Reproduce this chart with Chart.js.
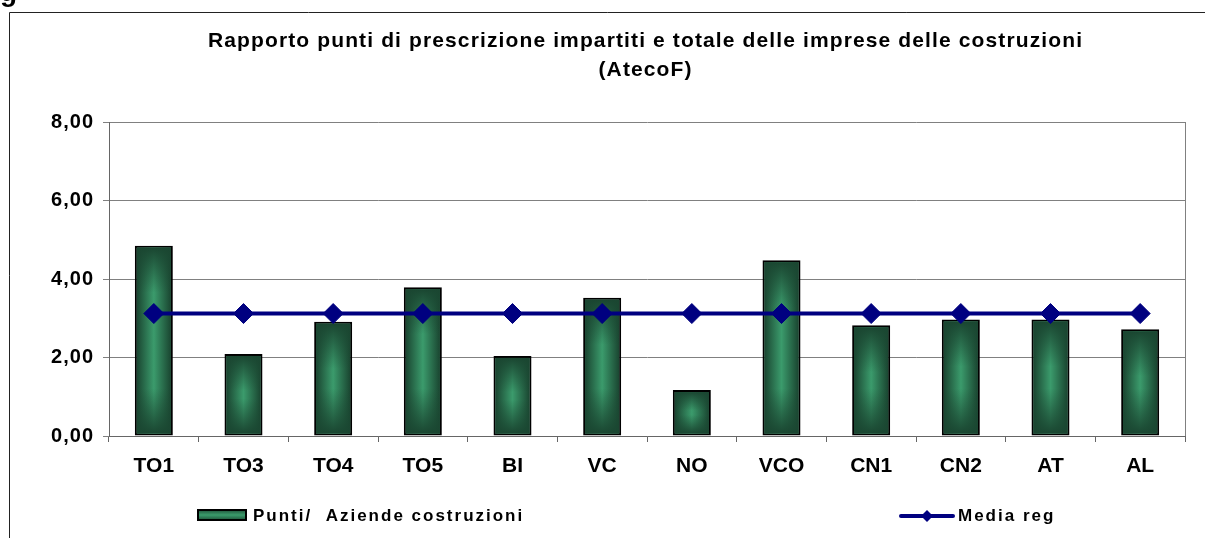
<!DOCTYPE html>
<html><head><meta charset="utf-8">
<script src="https://cdn.jsdelivr.net/npm/chart.js@4.4.1/dist/chart.umd.min.js"></script>
<style>html,body{margin:0;padding:0;background:#fff;}canvas{display:block;}</style>
</head><body>
<canvas id="c" width="1205" height="538"></canvas>
<script>
const categories = ['TO1','TO3','TO4','TO5','BI','VC','NO','VCO','CN1','CN2','AT','AL'];
const puntiAziende = [4.85,2.09,2.91,3.79,2.04,3.52,1.17,4.48,2.82,2.97,2.97,2.72];
const mediaReg = [3.12,3.12,3.12,3.12,3.12,3.12,3.12,3.12,3.12,3.12,3.12,3.12];
const yTicks = [0,2,4,6,8];
const titleLines = ['Rapporto punti di prescrizione impartiti e totale delle imprese delle costruzioni','(AtecoF)'];
const seriesLabels = ['Punti/  Aziende costruzioni','Media reg'];

const FONT = '"Liberation Sans", Arial, sans-serif';
const DARK = '#1a4631', LIGHT = '#3b9b6c', NAVY = '#000080';

function spacedText(ctx, text, x, y, spacing, align) {
  ctx.save();
  ctx.letterSpacing = spacing + 'px';
  const w = ctx.measureText(text).width - spacing;
  let sx = x;
  if (align === 'center') sx = x - w / 2;
  else if (align === 'right') sx = x - w;
  ctx.textAlign = 'left';
  ctx.fillText(text, sx, y);
  ctx.restore();
  return w;
}

const framePlugin = {
  id: 'frame',
  beforeDraw(chart) {
    const c = chart.ctx;
    c.save();
    c.fillStyle = '#fff';
    c.fillRect(0, 0, chart.width, chart.height);
    c.fillStyle = '#000';
    c.font = 'bold 28px ' + FONT;
    c.textBaseline = 'alphabetic';
    c.fillText('g', 0, 1);
    c.strokeStyle = '#222';
    c.lineWidth = 1;
    c.beginPath();
    c.moveTo(9.5, chart.height + 2);
    c.lineTo(9.5, 12.5);
    c.lineTo(chart.width + 2, 12.5);
    c.stroke();
    c.restore();
  },
  afterDraw(chart) {
    const c = chart.ctx, a = chart.chartArea;
    c.save();
    c.strokeStyle = '#808080';
    c.lineWidth = 1;
    c.beginPath();
    c.moveTo(Math.round(a.right) + 0.5, a.top);
    c.lineTo(Math.round(a.right) + 0.5, a.bottom);
    c.stroke();
    // title
    c.fillStyle = '#000';
    c.font = 'bold 21px ' + FONT;
    c.textBaseline = 'alphabetic';
    c.letterSpacing = '0px';
    const w0 = c.measureText(titleLines[0]).width;
    const sp = Math.max(0, (874 - w0) / (titleLines[0].length - 1));
    const cx = 645;
    spacedText(c, titleLines[0], cx, 47, sp, 'center');
    spacedText(c, titleLines[1], cx, 76, sp, 'center');
    // legend
    c.font = 'bold 17px ' + FONT;
    const ly = 515;
    const g = c.createLinearGradient(0, ly - 6, 0, ly + 6);
    g.addColorStop(0, DARK); g.addColorStop(0.5, LIGHT); g.addColorStop(1, DARK);
    c.fillStyle = '#000';
    c.fillRect(197, ly - 6, 50, 12);
    c.fillStyle = g;
    c.fillRect(199, ly - 4, 46, 8);
    c.fillStyle = '#000';
    spacedText(c, chart.data.datasets[0].label, 253, ly + 6, 2, 'left');
    c.strokeStyle = NAVY;
    c.lineWidth = 4;
    c.lineCap = 'round';
    c.beginPath(); c.moveTo(901, ly + 1); c.lineTo(953, ly + 1); c.stroke();
    c.fillStyle = NAVY;
    c.beginPath();
    c.moveTo(927, ly + 1 - 6); c.lineTo(933, ly + 1); c.lineTo(927, ly + 7); c.lineTo(921, ly + 1); c.closePath();
    c.fill();
    c.fillStyle = '#000';
    spacedText(c, chart.data.datasets[1].label, 958, ly + 6, 2, 'left');
    c.restore();
  }
};

const barShadePlugin = {
  id: 'barShade',
  afterDatasetDraw(chart, args) {
    if (args.index !== 0) return;
    const c = chart.ctx;
    const bw = 2;
    args.meta.data.forEach(el => {
      const l = el.x - el.width / 2 + bw, r = el.x + el.width / 2 - bw;
      const t = Math.min(el.y, el.base) + bw, b = Math.max(el.y, el.base) - bw;
      const w = r - l, h = b - t;
      if (w <= 0 || h <= 0) return;
      c.save();
      const hg = c.createLinearGradient(l, 0, r, 0);
      hg.addColorStop(0, DARK); hg.addColorStop(0.5, LIGHT); hg.addColorStop(1, DARK);
      c.fillStyle = hg;
      c.fillRect(l, t, w, h);
      const band = Math.min(h * 0.45, 45);
      const tg = c.createLinearGradient(0, t, 0, t + band);
      tg.addColorStop(0, 'rgba(26,70,49,1)'); tg.addColorStop(1, 'rgba(26,70,49,0)');
      c.fillStyle = tg; c.fillRect(l, t, w, band);
      const bg = c.createLinearGradient(0, b, 0, b - band);
      bg.addColorStop(0, 'rgba(26,70,49,1)'); bg.addColorStop(1, 'rgba(26,70,49,0)');
      c.fillStyle = bg; c.fillRect(l, b - band, w, band);
      c.restore();
    });
  }
};

const spacingPlugin = {
  id: 'labelSpacing',
  beforeDraw(chart) {
    [['y', 1], ['x', 0]].forEach(([id, sp]) => {
      const s = chart.scales[id];
      if (s && !s._spWrapped) {
        const orig = s.drawLabels.bind(s);
        s.drawLabels = function (ca) {
          this.ctx.save();
          this.ctx.letterSpacing = sp + 'px';
          orig(ca);
          this.ctx.restore();
        };
        s._spWrapped = true;
      }
    });
  }
};

new Chart(document.getElementById('c'), {
  data: {
    labels: categories,
    datasets: [
      {
        type: 'bar', label: seriesLabels[0], data: puntiAziende, order: 2,
        backgroundColor: DARK, borderColor: '#000', borderWidth: 2, borderSkipped: false,
        categoryPercentage: 1, barPercentage: 0.424
      },
      {
        type: 'line', label: seriesLabels[1], data: mediaReg, order: 1,
        borderColor: NAVY, borderWidth: 4, backgroundColor: NAVY,
        pointStyle: 'rectRot', pointRadius: 10, pointHoverRadius: 10,
        pointBackgroundColor: NAVY, pointBorderColor: NAVY, pointBorderWidth: 1,
        tension: 0, fill: false
      }
    ]
  },
  options: {
    responsive: false, animation: false, devicePixelRatio: 1,
    layout: { padding: { top: 122, right: 20, left: 0, bottom: 0 } },
    plugins: { legend: { display: false }, title: { display: false }, tooltip: { enabled: false } },
    scales: {
      x: {
        offset: true,
        grid: { offset: true, drawOnChartArea: false, drawTicks: true, tickLength: 6, color: '#666' },
        border: { color: '#666', width: 1 },
        ticks: { color: '#000', font: { family: FONT, size: 21, weight: 'bold' }, padding: 12, maxRotation: 0 },
        afterFit(s) { s.height = 102; }
      },
      y: {
        min: 0, max: 8,
        afterBuildTicks(s) { s.ticks = yTicks.map(v => ({ value: v })); },
        grid: { color: '#808080', tickLength: 6, drawTicks: true },
        border: { color: '#666', width: 1 },
        ticks: {
          color: '#000', font: { family: FONT, size: 20, weight: 'bold' }, padding: 9,
          callback: v => v.toFixed(2).replace('.', ',')
        },
        afterFit(s) { s.width = 109; }
      }
    }
  },
  plugins: [framePlugin, barShadePlugin, spacingPlugin]
});
</script>
</body></html>
